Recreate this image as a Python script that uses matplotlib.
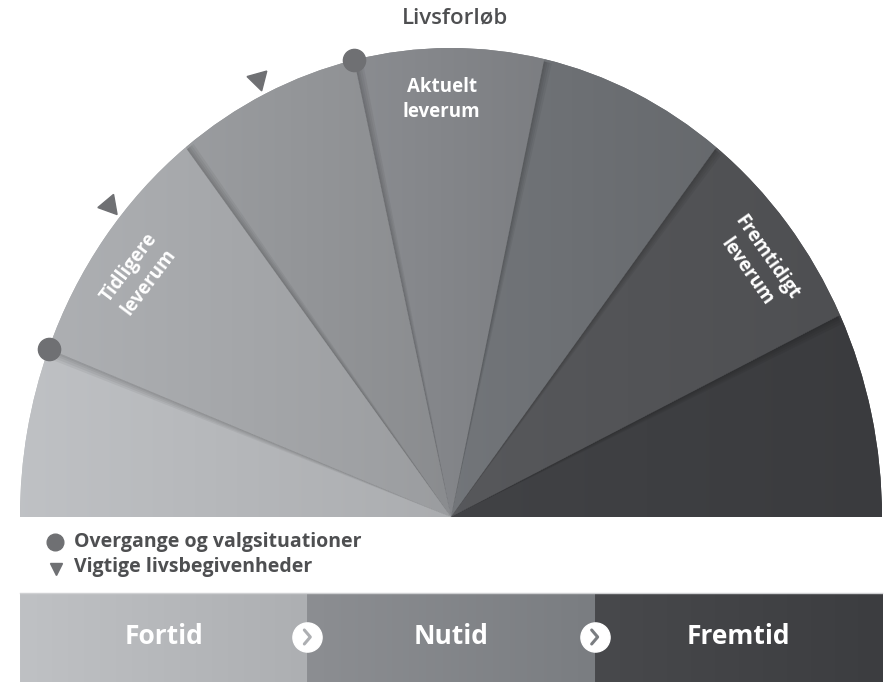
import numpy as np
import matplotlib
matplotlib.use('Agg')
import matplotlib.pyplot as plt
from matplotlib.patches import Wedge
from matplotlib.colors import to_rgb

plt.rcParams['font.family'] = ['Open Sans', 'DejaVu Sans']

# fan: segment edges in degrees (left -> right) and colours
fan_edges = [180, 159, 128, 103, 77.5, 52, 25.5, 0]
fan_colors = ['#b6b8bb', '#a5a7aa', '#939598', '#84868a', '#6d7074', '#535457', '#3e3f42']

# markers on the rim
dot_angles = [159, 103]
tri_angles = [140, 115.6]

# labels inside the fan (text, angle, rotation)
wedge_labels = ['Tidligere\nleverum', 'Aktuelt\nleverum', 'Fremtidigt\nleverum']
label_angles = [144.5, 91.4, 37.2]
label_rot = [53, 0, -55]

legend_labels = ['Overgange og valgsituationer', 'Vigtige livsbegivenheder']

bar_labels = ['Fortid', 'Nutid', 'Fremtid']
bar_colors = [('#bfc1c4', '#adafb2'), ('#8c8e92', '#7a7d81'), ('#48494c', '#3c3d40')]

TEXT = '#4e4f51'
MARK = '#6f7073'


def shade(c, f):
    r, g, b = to_rgb(c)
    return (min(r * f, 1), min(g * f, 1), min(b * f, 1))


def hgrad(c0, c1, n=256):
    t = np.linspace(0, 1, n)[None, :, None]
    return (1 - t) * np.array(to_rgb(c0)) + t * np.array(to_rgb(c1))


fig = plt.figure(figsize=(8.85, 6.82), dpi=100)
W, H = 885, 682
cx, cy, rx, ry = 451, 517, 431, 469

# fan axes: unit half circle stretched to the picture
fan = fig.add_axes([(cx - rx) / W, (H - cy) / H, 2 * rx / W, ry / H])
fan.set_axis_off()

for i, col in enumerate(fan_colors):
    t1, t2 = fan_edges[i + 1], fan_edges[i]
    w = Wedge((0, 0), 1, t1, t2, facecolor=col, edgecolor='none')
    fan.add_patch(w)
    xs = np.cos(np.radians(np.linspace(t1, t2, 50)))
    x0, x1 = min(xs.min(), 0), max(xs.max(), 0)
    im = fan.imshow(hgrad(shade(col, 1.05), shade(col, 0.94)),
                    extent=(x0, x1, 0, 1), aspect='auto', zorder=1)
    im.set_clip_path(w)

# soft shadows along the inner edges (stacked thin wedges)
for k, a in enumerate(fan_edges[1:-1]):
    sgn = 1 if k == 0 else -1
    for wd in (0.25, 0.5, 0.8, 1.1):
        sw = Wedge((0, 0), 0.995, min(a, a + sgn * wd), max(a, a + sgn * wd),
                   facecolor='black', alpha=0.05, edgecolor='none', zorder=2)
        fan.add_patch(sw)

da = np.radians(dot_angles)
fan.plot(np.cos(da), np.sin(da), 'o', ms=16, color=MARK, clip_on=False, zorder=5)
for a in tri_angles:
    r = np.radians(a)
    fan.plot(1.035 * np.cos(r), 1.035 * np.sin(r), marker=(3, 0, a - 160),
             ms=17, color=MARK, clip_on=False, zorder=5, linestyle='none')

for txt, a, rot in zip(wedge_labels, label_angles, label_rot):
    r = np.radians(a)
    fan.text(0.89 * np.cos(r), 0.89 * np.sin(r), txt, rotation=rot,
             ha='center', va='center', ma='center', color='white',
             fontsize=13.5, fontweight='bold', linespacing=1.3, zorder=6)

fan.set_xlim(-1, 1)
fan.set_ylim(0, 1)

# overlay in pixel coordinates for title, legend and the time bar
ov = fig.add_axes([0, 0, 1, 1])
ov.set_xlim(0, W)
ov.set_ylim(H, 0)
ov.set_axis_off()
ov.patch.set_alpha(0)

ov.text(455, 18, 'Livsforløb', ha='center', va='center', color=TEXT,
        fontsize=16, fontweight='semibold')

ov.plot(55, 542, 'o', ms=12, color=MARK)
ov.plot(56, 569, 'v', ms=9, color=MARK)
for y, lab in zip([542, 567], legend_labels):
    ov.text(74, y, lab, ha='left', va='center', color=TEXT,
            fontsize=14, fontweight='bold')

bx = np.linspace(20, 882, len(bar_labels) + 1)
for i, lab in enumerate(bar_labels):
    ov.imshow(hgrad(*bar_colors[i]), extent=(bx[i], bx[i + 1], 682, 593),
              aspect='auto', zorder=1)
    ov.text((bx[i] + bx[i + 1]) / 2, 636, lab, ha='center', va='center',
            color='white', fontsize=19, fontweight='bold', zorder=3)
ov.axhline(593, xmin=20 / W, xmax=882 / W, color='#d0d1d3', lw=1, zorder=2)

for i in range(1, len(bar_labels)):
    x = bx[i]
    ov.plot(x, 637, 'o', ms=21, color='white', zorder=4)
    ov.plot([x - 3, x + 3, x - 3], [630, 637, 644], color=bar_colors[i - 1][1],
            lw=2.2, solid_capstyle='round', zorder=5)

ov.set_xlim(0, W)
ov.set_ylim(H, 0)

fig.savefig('out.png', dpi=100)
